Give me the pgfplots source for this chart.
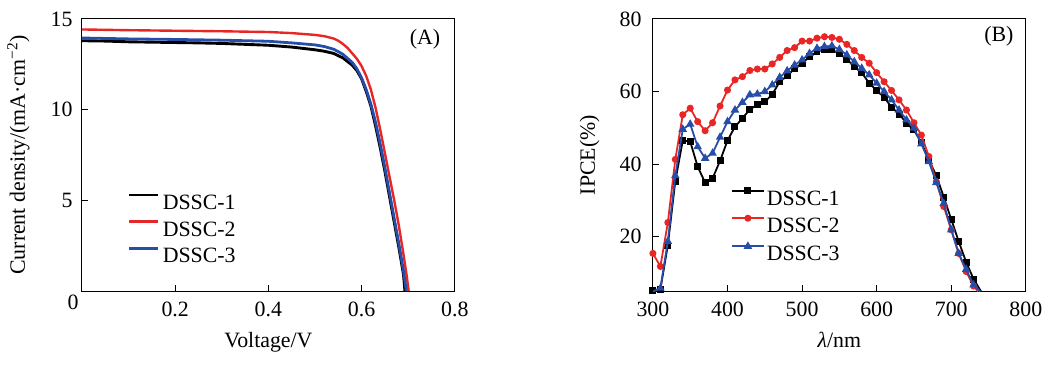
\documentclass[border=0pt]{standalone}
\usepackage{pgfplots}
\pgfplotsset{compat=1.18}
\usepackage{fontspec}
\setmainfont{Liberation Serif}
\definecolor{cred}{RGB}{232,38,38}
\definecolor{cblue}{RGB}{38,78,168}
\begin{document}
\fontsize{22}{26}\selectfont
\begin{tikzpicture}[x=1bp,y=1bp]
\path (0,0) rectangle (1053,366);
\pgfplotsset{
  every axis/.append style={
    scale only axis, width=374bp, height=273bp, anchor=south west,
    axis line style={line width=1.1bp}, 
    tick style={line width=1bp, black}, tickwidth=6bp,
    tick align=inside, xtick pos=bottom, ytick pos=left,
    /pgf/number format/assume math mode=true,
    tick label style={font=\fontsize{22}{26}\selectfont},
    label style={font=\fontsize{22}{26}\selectfont},
    clip mode=individual,
  },
}
% Panel A
\begin{axis}[at={(79bp,74bp)},
  xmin=0, xmax=0.8, ymin=0, ymax=15,
  xtick={0.2,0.4,0.6,0.8}, xticklabels={0.2,0.4,0.6,0.8},
  ytick={5,10,15},
  xlabel={Voltage/V}, ylabel={Current density/(mA·cm\textsuperscript{−2})},
  xlabel style={at={(axis description cs:0.5,0)}, anchor=north, yshift=-34bp},
  ylabel style={at={(axis description cs:0,0.5)}, anchor=south, yshift=45bp},
  xticklabel style={yshift=-3bp},
  yticklabel style={xshift=-2bp},
  legend style={draw=none, fill=none, at={(axis description cs:0.123,0.231)}, anchor=west,
    inner sep=0pt, row sep=11bp, font=\fontsize{22}{26}\selectfont,
    nodes={inner sep=0pt, text height=15bp, text depth=0bp}},
  legend cell align=left,
  legend image code/.code={\draw[#1] (0bp,7bp) -- (29bp,7bp);},
  ]
\addplot[black, line width=2.9bp] coordinates {
(0,13.8)(0.05,13.78)(0.1,13.74)(0.15,13.72)(0.2,13.7)(0.25,13.68)(0.3,13.65)(0.35,13.6)(0.4,13.55)(0.45,13.45)(0.5,13.3)(0.52,13.22)(0.54,13.1)(0.56,12.85)(0.58,12.45)(0.59,12.15)(0.60,11.7)(0.61,11.0)(0.62,10.2)(0.63,9.1)(0.64,7.9)(0.65,6.6)(0.66,5.2)(0.67,3.8)(0.68,2.4)(0.69,0.9)(0.693,0)};
\addlegendentry{\hspace{3bp}DSSC-1}
\addplot[cred, line width=2.4bp] coordinates {
(0,14.42)(0.05,14.4)(0.1,14.38)(0.2,14.35)(0.3,14.32)(0.35,14.3)(0.4,14.28)(0.45,14.22)(0.5,14.12)(0.52,14.05)(0.54,13.92)(0.55,13.8)(0.56,13.62)(0.57,13.4)(0.58,13.1)(0.59,12.8)(0.60,12.4)(0.61,11.85)(0.62,11.1)(0.63,10.1)(0.64,8.9)(0.65,7.6)(0.66,6.3)(0.67,5.0)(0.68,3.6)(0.69,2.0)(0.697,0.8)(0.701,0)};
\addlegendentry{\hspace{3bp}DSSC-2}
\addplot[cblue, line width=2.8bp] coordinates {
(0,13.95)(0.1,13.9)(0.2,13.87)(0.3,13.83)(0.4,13.77)(0.45,13.68)(0.5,13.57)(0.52,13.48)(0.54,13.33)(0.55,13.2)(0.56,13.05)(0.58,12.6)(0.59,12.25)(0.60,11.75)(0.61,11.1)(0.62,10.3)(0.63,9.3)(0.64,8.1)(0.65,6.8)(0.66,5.4)(0.67,4.0)(0.68,2.6)(0.69,1.1)(0.696,0)};
\addlegendentry{\hspace{3bp}DSSC-3}
\node[anchor=center] at (axis description cs:0.92,0.925) {(A)};
\node[anchor=center] at (axis description cs:-0.024,-0.04) {0};
\end{axis}
% Panel B
\begin{axis}[at={(651.7bp,74bp)},
  xmin=300, xmax=800, ymin=5, ymax=80,
  xtick={300,400,500,600,700,800},
  ytick={20,40,60,80},
  xlabel={\textit{λ}/nm}, ylabel={IPCE(\%)},
  xlabel style={at={(axis description cs:0.5,0)}, anchor=north, yshift=-34bp},
  ylabel style={at={(axis description cs:0,0.5)}, anchor=south, yshift=46bp},
  xticklabel style={yshift=-3bp},
  yticklabel style={xshift=-4bp},
  legend style={draw=none, fill=none, at={(axis description cs:0.209,0.245)}, anchor=west,
    inner sep=0pt, row sep=10.5bp, font=\fontsize{22}{26}\selectfont,
    nodes={inner sep=0pt, text height=15bp, text depth=0bp}},
  legend cell align=left,
  legend image code/.code={\draw[#1] (0bp,7bp) -- (32bp,7bp); \draw[#1, draw=none] plot coordinates {(16bp,7bp)};},
  every axis plot/.append style={line width=1.8bp, mark size=2.6bp},
  ]
\addplot[black, mark=square*] coordinates {
(300,5.3)(310,5.5)(320,17.7)(330,35.3)(340,46.5)(350,46.2)(360,39.3)(370,34.9)(380,36.1)(390,40.9)(400,46.5)(410,50.3)(420,52.6)(430,55.1)(440,56.3)(450,57.2)(460,59.2)(470,62.7)(480,64.3)(490,66.4)(500,67.8)(510,69.6)(520,71.0)(530,71.6)(540,71.5)(550,70.4)(560,68.9)(570,66.9)(580,65.2)(590,62.3)(600,60.3)(610,58.4)(620,55.7)(630,53.8)(640,51.3)(650,49.4)(660,45.9)(670,41.2)(680,36.8)(690,30.9)(700,24.8)(710,18.7)(720,13.0)(730,8.3)(740,4.9)};
\addlegendentry{\hspace{2bp}DSSC-1}
\addplot[cred, mark=*] coordinates {
(300,15.4)(310,11.8)(320,23.9)(330,41.3)(340,53.6)(350,55.4)(360,51.7)(370,49.2)(380,51.4)(390,56.0)(400,60.4)(410,63.2)(420,64.1)(430,65.8)(440,66.2)(450,66.2)(460,67.6)(470,69.4)(480,71.3)(490,72.1)(500,73.9)(510,73.9)(520,74.7)(530,75.1)(540,74.9)(550,74.4)(560,73.0)(570,71.3)(580,69.4)(590,67.8)(600,65.2)(610,62.7)(620,60.3)(630,57.7)(640,54.9)(650,51.4)(660,48.0)(670,42.1)(680,35.2)(690,28.3)(700,21.9)(710,15.4)(720,10.4)(730,6.4)(736,4.9)};
\addlegendentry{\hspace{2bp}DSSC-2}
\addplot[cblue, mark=triangle*, mark size=3.2bp] coordinates {
(300,4.9)(310,5.8)(320,18.7)(330,36.8)(340,49.6)(350,51.0)(360,44.8)(370,41.6)(380,43.0)(390,47.4)(400,51.7)(410,54.9)(420,57.0)(430,59.1)(440,59.3)(450,60.0)(460,61.8)(470,63.9)(480,65.7)(490,67.3)(500,68.7)(510,70.5)(520,71.9)(530,72.4)(540,72.6)(550,71.6)(560,70.1)(570,68.2)(580,66.4)(590,64.6)(600,62.3)(610,60.0)(620,57.7)(630,54.9)(640,52.2)(650,49.9)(660,45.6)(670,40.7)(680,34.9)(690,29.2)(700,21.9)(710,15.4)(720,11.0)(730,6.7)(739,4.9)};
\addlegendentry{\hspace{2bp}DSSC-3}
\node[anchor=center] at (axis description cs:0.928,0.935) {(B)};
\end{axis}
\end{tikzpicture}
\end{document}
